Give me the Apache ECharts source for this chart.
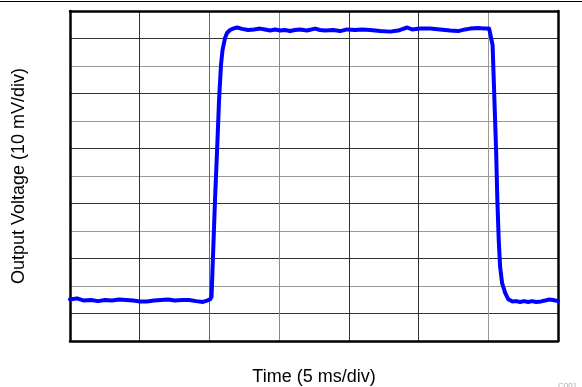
<!DOCTYPE html>
<html>
<head>
<meta charset="utf-8">
<script src="https://cdn.jsdelivr.net/npm/echarts@6/dist/echarts.min.js"></script>
<style>
html,body{margin:0;padding:0;background:#fff;}
#c{width:582px;height:387px;}
</style>
</head>
<body>
<div id="c"></div>
<script>
// Time in ms (5 ms/div), output voltage in mV (10 mV/div)
var timeMs = [
  0, 0.50, 1.00, 1.51, 2.01, 2.51, 3.01, 3.52, 4.02, 4.52, 5.02, 5.52, 6.03, 6.53, 7.03, 7.53, 8.03, 8.54, 9.04, 9.54, 9.83, 10.04,
  10.15, 10.26, 10.40, 10.55, 10.69, 10.83, 10.94, 11.12, 11.26, 11.48, 11.69, 11.98,
  12.34, 12.77, 13.20, 13.63, 13.99, 14.35, 14.71, 15.07, 15.42, 15.78, 16.14, 16.50, 17.00, 17.58, 17.94, 18.29, 18.87, 19.37, 19.87, 20.45, 20.95, 21.52, 22.24, 22.96, 23.53, 23.89, 24.18, 24.53, 25.11, 25.83, 26.54, 27.26, 27.84, 28.34, 28.70, 29.27, 29.70, 30.06, 30.20,
  30.31, 30.44, 30.56, 30.65, 30.75, 30.85, 30.99, 31.21, 31.42, 31.71, 32.00, 32.28, 32.57, 32.86, 33.14, 33.43, 33.79, 34.08, 34.36, 34.65, 35.0
];
var outputMv = [
  15.1, 15.5, 14.7, 14.9, 14.5, 14.9, 14.7, 15.1, 14.9, 14.7, 14.4, 14.4, 14.7, 14.9, 15.1, 14.7, 14.9, 14.9, 14.5, 14.2, 14.7, 15.1,
  16.0, 31.3, 51.3, 69.5, 87.6, 100.4, 105.8, 110.2, 112.0, 113.1, 113.6, 114.0,
  113.5, 113.1, 113.3, 113.6, 113.3, 112.9, 113.3, 112.9, 113.1, 112.7, 113.1, 113.3, 112.9, 113.6, 113.1, 112.9, 113.1, 112.7, 113.3, 113.1, 113.3, 113.1, 112.7, 112.5, 112.9, 113.5, 114.0, 113.3, 113.6, 113.6, 113.3, 112.9, 112.7, 113.3, 113.6, 113.8, 113.6, 113.6, 113.3,
  107.6, 87.6, 69.5, 51.3, 36.7, 26.9, 21.1, 17.5, 15.3, 14.4, 14.5, 14.2, 14.5, 14.2, 14.5, 14.2, 14.4, 14.7, 15.1, 14.9, 14.5
];
var xRange = [0, 35];   // 7 divisions of 5 ms
var yRange = [0, 120];  // 12 divisions of 10 mV
var xTitle = 'Time (5 ms/div)';
var yTitle = 'Output Voltage (10 mV/div)';

var points = timeMs.map(function (t, i) { return [t, outputMv[i]]; });

var chart = echarts.init(document.getElementById('c'), null, {renderer: 'canvas'});
var font = '"Liberation Sans", Arial, sans-serif';
var hidden = {show: false};
chart.setOption({
  animation: false,
  backgroundColor: '#fff',
  grid: {left: 70, top: 11, right: 24, bottom: 46, containLabel: false, outerBoundsMode: 'none'},
  xAxis: [{
    type: 'value', min: xRange[0], max: xRange[1], interval: 5,
    axisLabel: hidden, axisTick: hidden,
    axisLine: {show: true, onZero: false, lineStyle: {color: '#000', width: 2.5}},
    splitLine: {show: true, lineStyle: {width: 1, color: ['#999', '#333', '#666', '#888', '#333', '#333', '#999']}},
    name: xTitle, nameLocation: 'middle', nameGap: 27,
    nameTextStyle: {fontFamily: font, fontSize: 18, color: '#000', verticalAlign: 'top'}
  }, {
    type: 'value', position: 'top', min: xRange[0], max: xRange[1], interval: 5,
    axisLabel: hidden, axisTick: hidden, splitLine: hidden,
    axisLine: {show: true, onZero: false, lineStyle: {color: '#000', width: 2.5}}
  }],
  yAxis: [{
    type: 'value', min: yRange[0], max: yRange[1], interval: 10,
    axisLabel: hidden, axisTick: hidden,
    axisLine: {show: true, onZero: false, lineStyle: {color: '#000', width: 2.5}},
    splitLine: {show: true, lineStyle: {width: 1, color: ['#999', '#333']}},
    name: yTitle, nameLocation: 'middle', nameGap: 42, nameRotate: 90,
    nameTextStyle: {fontFamily: font, fontSize: 18, color: '#000'}
  }, {
    type: 'value', position: 'right', min: yRange[0], max: yRange[1], interval: 10,
    axisLabel: hidden, axisTick: hidden, splitLine: hidden,
    axisLine: {show: true, onZero: false, lineStyle: {color: '#000', width: 2.5}}
  }],
  series: [{
    type: 'line',
    data: points,
    showSymbol: false,
    smooth: false,
    lineStyle: {color: '#0000ff', width: 4, join: 'round', cap: 'round'},
    z: 5
  }],
  graphic: [{
    type: 'line', silent: true,
    shape: {x1: 0, y1: 1.5, x2: 582, y2: 1.5},
    style: {stroke: '#000', lineWidth: 1}
  }, {
    type: 'text', silent: true, left: 558, top: 382,
    style: {text: 'C001', fontSize: 8, fontFamily: font, fill: '#aaa'}
  }]
});
</script>
</body>
</html>
